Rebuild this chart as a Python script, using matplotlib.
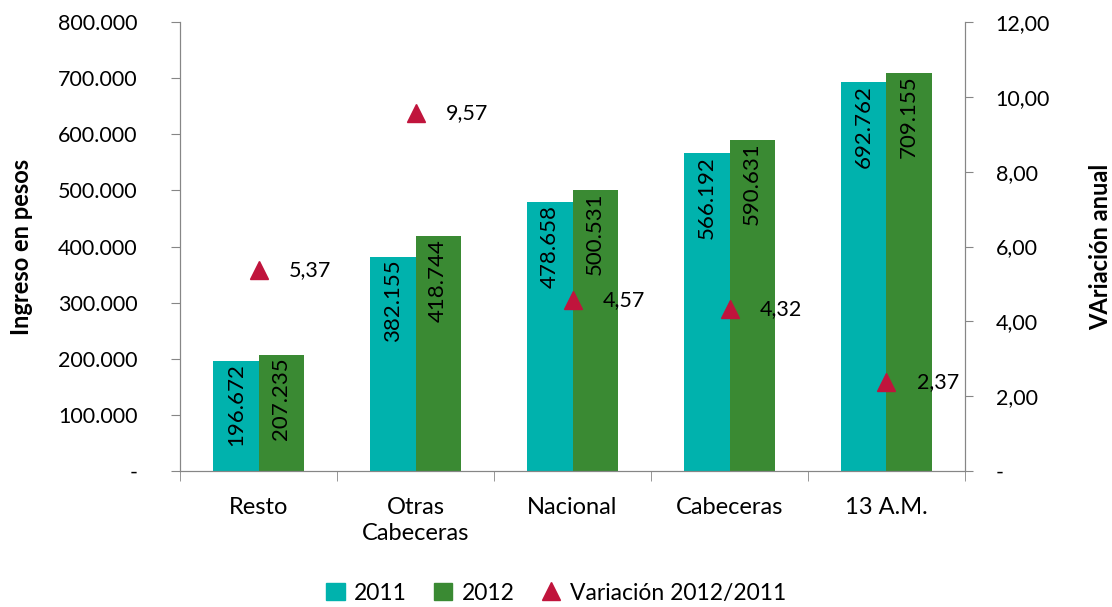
import matplotlib.pyplot as plt
import numpy as np
from matplotlib.lines import Line2D
from matplotlib.patches import Patch

plt.rcParams['font.family'] = ['Lato', 'DejaVu Sans']

# datos
categorias = ['Resto', 'Otras\nCabeceras', 'Nacional', 'Cabeceras', '13 A.M.']
ingreso_2011 = [196672, 382155, 478658, 566192, 692762]
ingreso_2012 = [207235, 418744, 500531, 590631, 709155]
variacion = [5.37, 9.57, 4.57, 4.32, 2.37]

c2011 = '#00B2AD'
c2012 = '#3A8A33'
ctri = '#C0143C'
gris = '#868686'
fs_num = 15.5
fs_txt = 17

def miles(v):
    return '-' if v == 0 else f'{v:,.0f}'.replace(',', '.')

def dec(v):
    return '-' if v == 0 else f'{v:.2f}'.replace('.', ',')

fig = plt.figure(figsize=(11.12, 6.07), dpi=100)
ax = fig.add_axes([0.1619, 0.224, 0.7059, 0.7397])
x = np.arange(len(categorias))
w = 0.287

b1 = ax.bar(x - w / 2, ingreso_2011, w, color=c2011)
b2 = ax.bar(x + w / 2, ingreso_2012, w, color=c2012)
for barras, vals in [(b1, ingreso_2011), (b2, ingreso_2012)]:
    for b, v in zip(barras, vals):
        ax.annotate(miles(v), (b.get_x() + b.get_width() / 2, v), xytext=(0, -2),
                    textcoords='offset points', rotation=90, ha='center', va='top',
                    fontsize=16)

ax.set_xlim(-0.5, len(categorias) - 0.5)
ax.set_ylim(0, 800000)
ax.set_yticks(np.arange(0, 800001, 100000))
ax.set_yticklabels([miles(v) for v in np.arange(0, 800001, 100000)], fontsize=fs_num)
ax.set_xticks(x)
ax.set_xticklabels(categorias, fontsize=fs_txt, linespacing=1.25)
ax.set_xticks(np.arange(-0.5, len(categorias), 1), minor=True)
ax.tick_params(axis='x', which='major', length=0, pad=19)
ax.tick_params(axis='x', which='minor', length=7, color=gris)
ax.tick_params(axis='y', length=6.5, color=gris, pad=24)
ax.set_ylabel('Ingreso en pesos', fontsize=fs_txt, fontweight='bold', labelpad=18)
ax.spines['top'].set_visible(False)
for s in ['left', 'right', 'bottom']:
    ax.spines[s].set_color(gris)

ax2 = ax.twinx()
ax2.plot(x, variacion, linestyle='none', marker='^', markersize=13, color=ctri)
for xi, v in zip(x, variacion):
    ax2.annotate(dec(v), (xi, v), xytext=(22, 0), textcoords='offset points',
                 ha='left', va='center', fontsize=fs_num)
ax2.set_ylim(0, 12)
ax2.set_yticks(np.arange(0, 12.1, 2))
ax2.set_yticklabels([dec(v) for v in np.arange(0, 12.1, 2)], fontsize=fs_num)
ax2.tick_params(axis='y', length=6, color=gris, pad=16)
ax2.set_ylabel('VAriación anual', fontsize=fs_txt, fontweight='bold', labelpad=28)
ax2.spines['top'].set_visible(False)
for s in ['left', 'right', 'bottom']:
    ax2.spines[s].set_color(gris)

handles = [Patch(color=c2011, label='2011'), Patch(color=c2012, label='2012'),
           Line2D([], [], linestyle='none', marker='^', markersize=13, color=ctri,
                  label='Variación 2012/2011')]
fig.legend(handles=handles, loc='center', bbox_to_anchor=(0.5, 0.023), ncol=3,
           frameon=False, fontsize=16.5, handlelength=0.8, handleheight=0.8,
           handletextpad=0.4, columnspacing=1.2)

fig.savefig('out.png', dpi=100)
